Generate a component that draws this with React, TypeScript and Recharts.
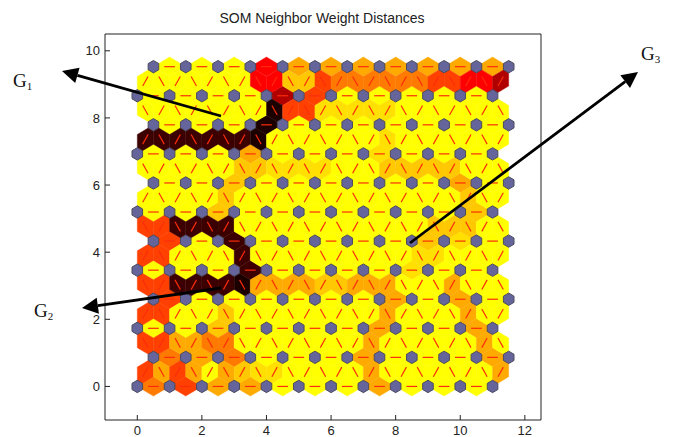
import { ScatterChart, Scatter, XAxis, YAxis } from 'recharts'

const xTicks = [0, 2, 4, 6, 8, 10, 12]
const yTicks = [0, 2, 4, 6, 8, 10]

// colour for each distance level, low to high
const levelColors = ['#ffff00', '#ffe000', '#ffc800', '#ffaa00', '#ff7a00', '#ff4000', '#ff0000', '#b00000', '#3c0000', '#1c0000']

// distance level of each same-row neighbour pair, bottom row first
const rowLinks = [
  [4, 5, 3, 3, 0, 0, 0, 3, 0, 0, 0],
  [4, 3, 4, 0, 0, 0, 3, 0, 0, 0, 3],
  [0, 0, 2, 0, 0, 0, 0, 3, 0, 0, 3],
  [5, 0, 0, 0, 0, 0, 0, 3, 0, 3, 0],
  [0, 0, 0, 8, 0, 0, 0, 0, 1, 0, 0],
  [5, 0, 8, 0, 0, 0, 0, 0, 2, 1, 0],
  [0, 0, 2, 0, 0, 0, 0, 0, 0, 0, 2],
  [0, 0, 2, 0, 0, 0, 0, 0, 0, 3, 0],
  [0, 0, 0, 3, 0, 0, 0, 1, 0, 0, 0],
  [0, 0, 0, 9, 0, 0, 0, 0, 0, 0, 0],
  [0, 0, 0, 0, 7, 5, 0, 0, 0, 0, 0],
  [0, 0, 0, 6, 3, 3, 3, 3, 3, 3, 3],
]

// distance level of each zigzag pair between a row and the next one up
const zigzagLinks = [
  [5, 3, 5, 3, 0, 3, 2, 1, 1, 0, 0, 0, 0, 0, 3, 0, 0, 0, 0, 0, 0, 0, 3],
  [5, 5, 3, 3, 4, 4, 0, 0, 0, 0, 0, 0, 0, 0, 3, 0, 0, 0, 0, 0, 0, 3, 0],
  [5, 5, 0, 0, 0, 2, 0, 0, 0, 0, 0, 0, 0, 0, 0, 3, 0, 0, 0, 0, 3, 0, 0],
  [5, 5, 8, 8, 8, 8, 9, 3, 3, 3, 3, 2, 2, 3, 3, 3, 0, 0, 0, 3, 0, 0, 0],
  [5, 5, 0, 0, 0, 0, 8, 0, 0, 0, 0, 0, 0, 0, 0, 0, 0, 1, 1, 0, 0, 0, 0],
  [5, 5, 8, 8, 8, 8, 0, 0, 0, 0, 0, 0, 0, 0, 0, 0, 0, 0, 2, 2, 2, 0, 0],
  [0, 0, 0, 0, 0, 2, 0, 0, 0, 0, 0, 0, 0, 0, 0, 0, 0, 0, 0, 0, 2, 0, 0],
  [0, 0, 0, 0, 0, 0, 2, 2, 1, 1, 1, 1, 0, 0, 0, 2, 2, 2, 2, 2, 0, 0, 0],
  [8, 8, 8, 8, 8, 8, 8, 9, 0, 0, 0, 0, 0, 0, 0, 1, 0, 0, 0, 0, 0, 0, 0],
  [0, 0, 0, 0, 0, 0, 0, 0, 9, 5, 5, 1, 1, 1, 1, 1, 0, 0, 0, 0, 0, 0, 0],
  [0, 0, 0, 0, 0, 0, 0, 6, 6, 2, 2, 5, 4, 4, 4, 4, 4, 4, 5, 5, 6, 6, 7],
]

const ROW_H = Math.sqrt(0.75)
const rowStart = (r: number) => (r % 2 ? 0.5 : 0)

type Edge = { x: number; y: number; dx: number; dy: number; level: number }

const edges: Edge[] = []
rowLinks.forEach((row, r) =>
  row.forEach((level, i) => {
    edges.push({ x: rowStart(r) + i + 0.5, y: r * ROW_H, dx: 0.5, dy: 0, level })
  }),
)
zigzagLinks.forEach((row, r) =>
  row.forEach((level, k) => {
    const rising = (k % 2 === 0) === (r % 2 === 0)
    edges.push({ x: 0.25 + k * 0.5, y: (r + 0.5) * ROW_H, dx: rising ? 0.25 : -0.25, dy: ROW_H / 2, level })
  }),
)

const neurons: { x: number; y: number }[] = []
rowLinks.forEach((row, r) => {
  for (let i = 0; i <= row.length; i++) neurons.push({ x: rowStart(r) + i, y: r * ROW_H })
})

// pixels per data unit inside the plot box
const UX = 436 / 13.5
const UY = 386 / 11.5
const TIP = 0.577 // centroid offset relative to the half edge length

function EdgePatch({ cx, cy, payload }: any) {
  const { dx, dy, level } = payload as Edge
  const ax = dx * UX
  const ay = -dy * UY
  const px = -dy * TIP * UX
  const py = -dx * TIP * UY
  const pts = [
    [cx + ax, cy + ay],
    [cx + px, cy + py],
    [cx - ax, cy - ay],
    [cx - px, cy - py],
  ]
  const c = levelColors[level]
  return <polygon points={pts.map((p) => p.join(',')).join(' ')} fill={c} stroke={c} strokeWidth={0.4} />
}

function EdgeLine({ cx, cy, payload }: any) {
  const { dx, dy } = payload as Edge
  const ax = dx * UX * 0.33
  const ay = -dy * UY * 0.33
  return <line x1={cx - ax} y1={cy - ay} x2={cx + ax} y2={cy + ay} stroke="#fb2c0c" strokeWidth={1.2} />
}

function Neuron({ cx, cy }: any) {
  const w = 5.3
  const h = 6.2
  const pts = [
    [cx, cy - h],
    [cx + w, cy - h / 2],
    [cx + w, cy + h / 2],
    [cx, cy + h],
    [cx - w, cy + h / 2],
    [cx - w, cy - h / 2],
  ]
  return <polygon points={pts.map((p) => p.join(',')).join(' ')} fill="#65659b" stroke="#4c4c5e" strokeWidth={1} />
}

const tickStyle = { fontSize: 13, fontFamily: 'Liberation Sans', fill: '#222' }
const NoLabel = () => <g />

function Arrow({ x1, y1, x2, y2 }: { x1: number; y1: number; x2: number; y2: number }) {
  const len = Math.hypot(x2 - x1, y2 - y1)
  const ux = (x2 - x1) / len
  const uy = (y2 - y1) / len
  const bx = x2 - ux * 16
  const by = y2 - uy * 16
  return (
    <g>
      <line x1={x1} y1={y1} x2={bx} y2={by} stroke="#000" strokeWidth={2.8} />
      <polygon points={`${x2},${y2} ${bx - uy * 8},${by + ux * 8} ${bx + uy * 8},${by - ux * 8}`} fill="#000" />
    </g>
  )
}

function GLabel({ x, y, n }: { x: number; y: number; n: string }) {
  return (
    <text x={x} y={y} fontFamily="Liberation Serif" fontSize={19} fill="#111">
      G<tspan fontSize={11} dy={3}>{n}</tspan>
    </text>
  )
}

export default function App() {
  return (
    <div style={{ position: 'absolute', left: 0, top: 0, width: 675, height: 437, background: '#fff' }}>
      <ScatterChart width={675} height={437} margin={{ top: 33, right: 133, bottom: 0, left: 75 }}>
        <XAxis
          type="number"
          dataKey="x"
          domain={[-1, 12.5]}
          ticks={xTicks}
          height={17}
          tickSize={-5}
          tickMargin={11}
          tick={tickStyle}
          stroke="#222"
          interval={0}
        />
        <YAxis
          type="number"
          dataKey="y"
          domain={[-1, 10.5]}
          ticks={yTicks}
          width={30}
          tickSize={-5}
          tickMargin={10}
          tick={tickStyle}
          stroke="#222"
          interval={0}
        />
        <XAxis xAxisId="top" orientation="top" type="number" dataKey="x" domain={[-1, 12.5]} ticks={xTicks} height={1} tickSize={-5} tick={NoLabel} stroke="#222" interval={0} />
        <YAxis yAxisId="right" orientation="right" type="number" dataKey="y" domain={[-1, 10.5]} ticks={yTicks} width={1} tickSize={-5} tick={NoLabel} stroke="#222" interval={0} />
        <Scatter data={edges} shape={EdgePatch} isAnimationActive={false} />
        <Scatter data={edges} shape={EdgeLine} isAnimationActive={false} />
        <Scatter data={neurons} shape={Neuron} isAnimationActive={false} />
      </ScatterChart>
      <svg width={675} height={437} style={{ position: 'absolute', left: 0, top: 0, pointerEvents: 'none' }}>
        <text x={322} y={23} textAnchor="middle" fontFamily="Liberation Sans" fontSize={14} fill="#222">
          SOM Neighbor Weight Distances
        </text>
        <Arrow x1={221} y1={116} x2={62} y2={71} />
        <Arrow x1={221} y1={288} x2={82} y2={308} />
        <Arrow x1={410} y1={243} x2={638} y2={72} />
        <GLabel x={13} y={87} n="1" />
        <GLabel x={34} y={317} n="2" />
        <GLabel x={641} y={60} n="3" />
      </svg>
    </div>
  )
}
